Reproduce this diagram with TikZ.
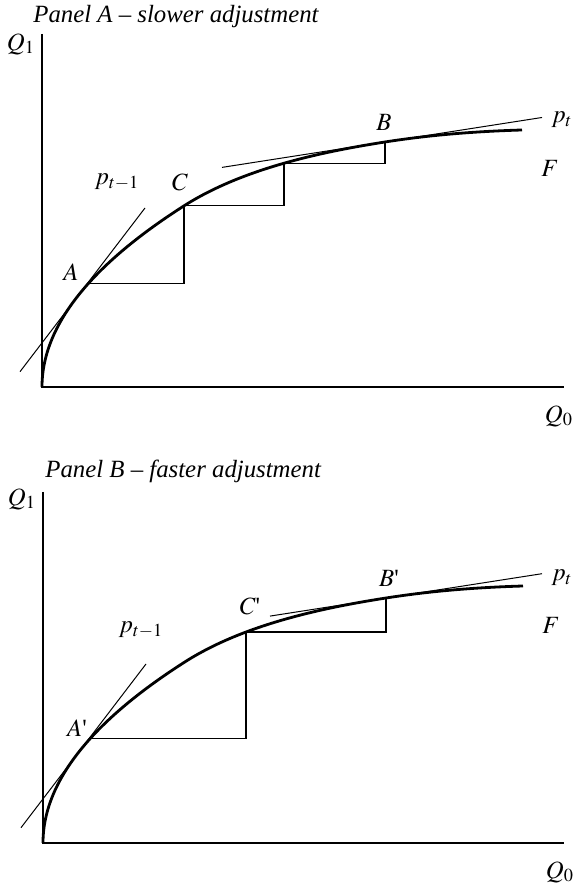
\documentclass[tikz,border=0pt]{standalone}
\usepackage{mathptmx}
\usepackage{fontspec}
\setmainfont{Liberation Serif}
\usetikzlibrary{intersections}

\begin{document}
\begin{tikzpicture}[x=0.5pt, y=0.5pt,
  axis/.style={line width=0.55pt},
  fcurve/.style={line width=1.4pt},
  tangent/.style={line width=0.5pt},
  stepline/.style={line width=0.6pt},
  lbl/.style={inner sep=1pt},
  font=\fontsize{12.4}{14}\selectfont]
  \useasboundingbox (0,0) rectangle (575,887);

  % Panel A -- slower adjustment
  \begin{scope}[shift={(42,500)}]
    % Axes
    \coordinate (oA) at (0,0);
    \coordinate (yA) at (0,353);
    \coordinate (xA) at (522,0);
    \draw[axis] (yA) -- (oA) -- (xA);
    \node[lbl] (titleA) at (-11,364) [anchor=base west] {\itshape Panel A -- slower adjustment};
    \node[lbl] (q1A) at (-21,343) {$Q_1$};
    \node[lbl] (q0A) at (517,-29) {$Q_0$};

    % Frontier F
    \draw[fcurve, name path=fA] plot[domain=0:11.916, samples=60] ({\x*\x},{15.2*\x})
      .. controls (202,219.4) and (283,235.6) .. (343,245)
      .. controls (389,252.2) and (434,255.6) .. (480,257);
    \node[lbl] (fA) at (508,219) {$F$};

    % Price lines
    \coordinate (p1a) at (-22,15.3);
    \coordinate (p1b) at (103,179);
    \draw[tangent] (p1a) -- (p1b);
    \coordinate (p2a) at (180,219.6);
    \coordinate (p2b) at (500,269.5);
    \draw[tangent] (p2a) -- (p2b);
    \node[lbl] (ptmA) at (75,205) {$p_{t-1}$};
    \node[lbl] (ptA) at (520,267) {$p_t$};

    % Adjustment steps
    \coordinate (A) at (46,{15.2*sqrt(46)});
    \coordinate (C) at (142,{15.2*sqrt(142)});
    \coordinate (B) at (343,245);
    \path[name path=vD] (242,0) -- (242,300);
    \path[name intersections={of=fA and vD, by=D}];
    \draw[stepline] (A) -| (C) -| (D) -| (B);
    \node[lbl] (labA) at (29,115) {$A$};
    \node[lbl] (labC) at (138,205) {$C$};
    \node[lbl] (labB) at (342,265) {$B$};
  \end{scope}

  % Panel B -- faster adjustment
  \begin{scope}[shift={(43,44)}]
    % Axes
    \coordinate (oB) at (0,0);
    \coordinate (yB) at (0,351);
    \coordinate (xB) at (521,0);
    \draw[axis] (yB) -- (oB) -- (xB);
    \node[lbl] (titleB) at (0,365) [anchor=base west] {\itshape Panel B -- faster adjustment};
    \node[lbl] (q1B) at (-21,344) {$Q_1$};
    \node[lbl] (q0B) at (517,-29) {$Q_0$};

    % Frontier F
    \draw[fcurve, name path=fB] plot[domain=0:11.916, samples=60] ({\x*\x},{15.2*\x})
      .. controls (202,219.4) and (283,235.6) .. (343,245)
      .. controls (389,252.2) and (434,255.6) .. (480,257);
    \node[lbl] (fB) at (508,218) {$F$};

    % Price lines
    \coordinate (q1a) at (-22,15.3);
    \coordinate (q1b) at (103,179);
    \draw[tangent] (q1a) -- (q1b);
    \coordinate (q2a) at (227,226.9);
    \coordinate (q2b) at (499,269.3);
    \draw[tangent] (q2a) -- (q2b);
    \node[lbl] (ptmB) at (98,213) {$p_{t-1}$};
    \node[lbl] (ptB) at (519,265) {$p_t$};

    % Adjustment steps
    \coordinate (A') at (47,{15.2*sqrt(47)});
    \coordinate (B') at (343,245);
    \path[name path=vC] (203,0) -- (203,300);
    \path[name intersections={of=fB and vC, by=C'}];
    \draw[stepline] (A') -| (C') -| (B');
    \node[lbl] (labA') at (34,115) {$A$\textquotesingle};
    \node[lbl] (labC') at (207,237) {$C$\textquotesingle};
    \node[lbl] (labB') at (346,265) {$B$\textquotesingle};
  \end{scope}
\end{tikzpicture}
\end{document}
